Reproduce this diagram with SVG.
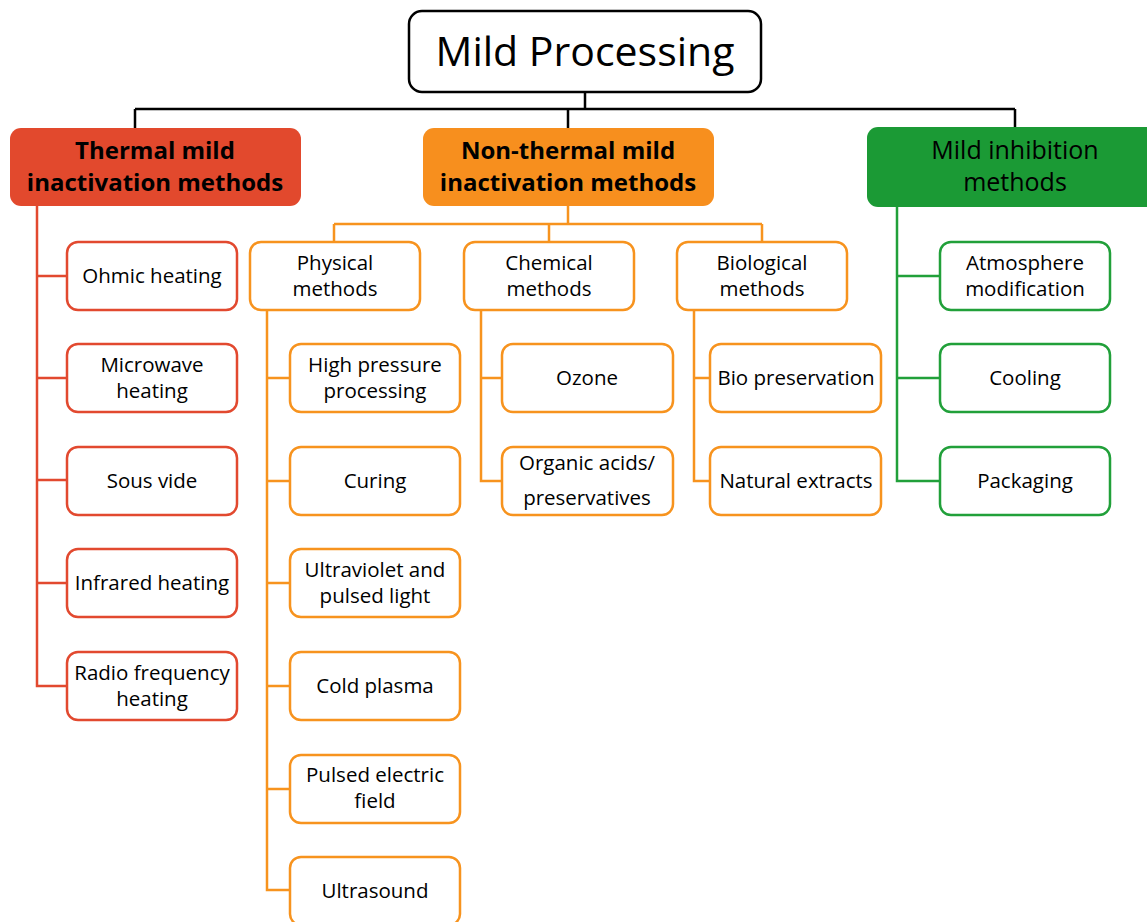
<svg xmlns="http://www.w3.org/2000/svg" width="1147" height="922" viewBox="0 0 1147 922">
<style>
text{font-family:"Open Sans","Noto Sans","Liberation Sans",sans-serif;fill:#000;text-anchor:middle}
.t{font-size:20.5px}
.h{font-size:24px;font-weight:bold}
.hr{font-size:25px}
.root{font-size:41px}
.box{fill:#fff;stroke-width:2.5}
.r{stroke:#E2492F}
.o{stroke:#F7931E}
.g{stroke:#21A03A}
.c{fill:none;stroke-width:2.5}
</style>
<rect width="1147" height="922" fill="#fff"/>
<g id="connectors">
<path class="c" stroke="#000" stroke-width="3" d="M585,92V109M135,109H1015M135,109V128M568,109V128M1015,109V127"/>
<path class="c r" d="M37,206V686H67M37,276H67M37,378H67M37,480H67M37,583H67"/>
<path class="c o" d="M568,206V224M334,224H762M334,224V242M549,224V242M762,224V242"/>
<path class="c o" d="M267,310V890H290M267,378H290M267,481H290M267,583H290M267,686H290M267,789H290"/>
<path class="c o" d="M481,310V481H502M481,378H502"/>
<path class="c o" d="M694,310V481H710M694,378H710"/>
<path class="c g" d="M897,207V481H940M897,276H940M897,378H940"/>
</g>
<g id="root"><rect x="409" y="11" width="352" height="81" rx="13" fill="#fff" stroke="#000" stroke-width="2.5"/><text class="root" x="585" y="66">Mild Processing</text></g>
<g id="thermal"><rect x="10" y="128" width="291" height="78" rx="11" fill="#E2492D"/><text class="h" x="155" y="159">Thermal mild</text><text class="h" x="155" y="191">inactivation methods</text></g>
<g id="nonthermal"><rect x="423" y="128" width="291" height="78" rx="11" fill="#F78F1E"/><text class="h" x="568" y="159">Non-thermal mild</text><text class="h" x="568" y="191">inactivation methods</text></g>
<g id="inhibition"><rect x="867" y="127" width="295" height="80" rx="11" fill="#1B9A35"/><text class="hr" x="1015" y="159">Mild inhibition</text><text class="hr" x="1015" y="191">methods</text></g>

<g id="ohmic"><rect class="box r" x="67" y="242" width="170" height="68" rx="11"/><text class="t" x="152" y="283">Ohmic heating</text></g>
<g id="microwave"><rect class="box r" x="67" y="344" width="170" height="68" rx="11"/><text class="t" x="152" y="372">Microwave</text><text class="t" x="152" y="398">heating</text></g>
<g id="sousvide"><rect class="box r" x="67" y="447" width="170" height="68" rx="11"/><text class="t" x="152" y="488">Sous vide</text></g>
<g id="infrared"><rect class="box r" x="67" y="549" width="170" height="68" rx="11"/><text class="t" x="152" y="590">Infrared heating</text></g>
<g id="radio"><rect class="box r" x="67" y="652" width="170" height="68" rx="11"/><text class="t" x="152" y="680">Radio frequency</text><text class="t" x="152" y="706">heating</text></g>

<g id="physical"><rect class="box o" x="250" y="242" width="170" height="68" rx="11"/><text class="t" x="335" y="270">Physical</text><text class="t" x="335" y="296">methods</text></g>
<g id="chemical"><rect class="box o" x="464" y="242" width="170" height="68" rx="11"/><text class="t" x="549" y="270">Chemical</text><text class="t" x="549" y="296">methods</text></g>
<g id="biological"><rect class="box o" x="677" y="242" width="170" height="68" rx="11"/><text class="t" x="762" y="270">Biological</text><text class="t" x="762" y="296">methods</text></g>

<g id="hpp"><rect class="box o" x="290" y="344" width="170" height="68" rx="11"/><text class="t" x="375" y="372">High pressure</text><text class="t" x="375" y="398">processing</text></g>
<g id="curing"><rect class="box o" x="290" y="447" width="170" height="68" rx="11"/><text class="t" x="375" y="488">Curing</text></g>
<g id="uv"><rect class="box o" x="290" y="549" width="170" height="68" rx="11"/><text class="t" x="375" y="577">Ultraviolet and</text><text class="t" x="375" y="603">pulsed light</text></g>
<g id="plasma"><rect class="box o" x="290" y="652" width="170" height="68" rx="11"/><text class="t" x="375" y="693">Cold plasma</text></g>
<g id="pef"><rect class="box o" x="290" y="755" width="170" height="68" rx="11"/><text class="t" x="375" y="782">Pulsed electric</text><text class="t" x="375" y="808">field</text></g>
<g id="ultrasound"><rect class="box o" x="290" y="857" width="170" height="68" rx="11"/><text class="t" x="375" y="898">Ultrasound</text></g>

<g id="ozone"><rect class="box o" x="502" y="344" width="171" height="68" rx="11"/><text class="t" x="587" y="385">Ozone</text></g>
<g id="organic"><rect class="box o" x="502" y="447" width="171" height="68" rx="11"/><text class="t" x="587" y="470">Organic acids/</text><text class="t" x="587" y="505">preservatives</text></g>

<g id="biopres"><rect class="box o" x="710" y="344" width="171" height="68" rx="11"/><text class="t" x="796" y="385">Bio preservation</text></g>
<g id="natural"><rect class="box o" x="710" y="447" width="171" height="68" rx="11"/><text class="t" x="796" y="488">Natural extracts</text></g>

<g id="atmosphere"><rect class="box g" x="940" y="242" width="170" height="68" rx="11"/><text class="t" x="1025" y="270">Atmosphere</text><text class="t" x="1025" y="296">modification</text></g>
<g id="cooling"><rect class="box g" x="940" y="344" width="170" height="68" rx="11"/><text class="t" x="1025" y="385">Cooling</text></g>
<g id="packaging"><rect class="box g" x="940" y="447" width="170" height="68" rx="11"/><text class="t" x="1025" y="488">Packaging</text></g>
</svg>
